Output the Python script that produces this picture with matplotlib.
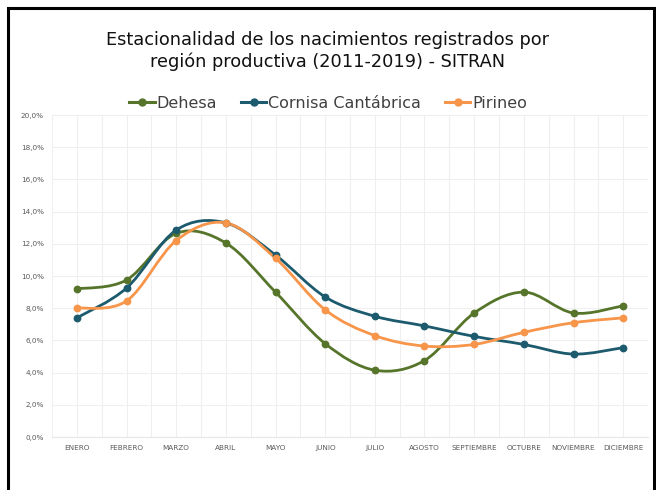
import numpy as np
import matplotlib.pyplot as plt
from matplotlib.path import Path
from matplotlib.patches import PathPatch, Rectangle
from matplotlib.ticker import FuncFormatter, MultipleLocator
from matplotlib.lines import Line2D

meses = ['ENERO', 'FEBRERO', 'MARZO', 'ABRIL', 'MAYO', 'JUNIO', 'JULIO',
         'AGOSTO', 'SEPTIEMBRE', 'OCTUBRE', 'NOVIEMBRE', 'DICIEMBRE']
dehesa = [9.2, 9.75, 12.65, 12.05, 9.0, 5.8, 4.15, 4.75, 7.7, 9.0, 7.7, 8.15]
cornisa = [7.4, 9.25, 12.85, 13.3, 11.3, 8.7, 7.5, 6.9, 6.25, 5.75, 5.15, 5.55]
pirineo = [8.0, 8.45, 12.2, 13.3, 11.1, 7.9, 6.3, 5.65, 5.75, 6.5, 7.1, 7.4]

series = [('Dehesa', dehesa, '#56752b'),
          ('Cornisa Cantábrica', cornisa, '#1c5a6e'),
          ('Pirineo', pirineo, '#f7954a')]


def smooth_path(x, y):
    # curva suavizada tipo Excel (Bezier con tension 1/6)
    x = np.asarray(x, float)
    y = np.asarray(y, float)
    verts = [(x[0], y[0])]
    codes = [Path.MOVETO]
    n = len(x)
    for i in range(n - 1):
        x0, y0 = (x[i - 1], y[i - 1]) if i > 0 else (x[i], y[i])
        x3, y3 = (x[i + 2], y[i + 2]) if i + 2 < n else (x[i + 1], y[i + 1])
        c1 = (x[i] + (x[i + 1] - x0) / 6, y[i] + (y[i + 1] - y0) / 6)
        c2 = (x[i + 1] - (x3 - x[i]) / 6, y[i + 1] - (y3 - y[i]) / 6)
        verts += [c1, c2, (x[i + 1], y[i + 1])]
        codes += [Path.CURVE4] * 3
    return Path(verts, codes)


fig = plt.figure(figsize=(6.56, 4.9), dpi=100)
ax = fig.add_axes([52 / 656, 1 - 437 / 490, 596 / 656, 322 / 490])

xs = np.arange(len(meses))
for nombre, vals, color in series:
    ax.add_patch(PathPatch(smooth_path(xs, vals), fill=False, edgecolor=color,
                           lw=2.0, capstyle='round', zorder=3))
    ax.plot(xs, vals, 'o', color=color, ms=4.6, zorder=4)

ax.set_xlim(-0.5, 11.5)
ax.set_ylim(0, 20)
ax.set_xticks(xs)
ax.set_xticklabels(meses)
ax.xaxis.set_minor_locator(MultipleLocator(0.5))
ax.yaxis.set_major_locator(MultipleLocator(2))
ax.yaxis.set_major_formatter(FuncFormatter(lambda v, p: f'{v:.1f}%'.replace('.', ',')))
ax.grid(True, which='both', axis='x', color='#efefef', lw=0.8)
ax.grid(True, which='major', axis='y', color='#efefef', lw=0.8)
ax.set_axisbelow(True)
ax.tick_params(which='both', length=0, labelsize=5.2, labelcolor='#595959', pad=6)
for s in ax.spines.values():
    s.set_visible(False)
ax.spines['bottom'].set_visible(True)
ax.spines['bottom'].set_color('#e6e6e6')

fig.text(0.5, 1 - 40 / 490, 'Estacionalidad de los nacimientos registrados por',
         ha='center', va='center', fontsize=12.8, color='#111111')
fig.text(0.5, 1 - 62 / 490, 'región productiva (2011-2019) - SITRAN',
         ha='center', va='center', fontsize=12.8, color='#111111')

handles = [Line2D([], [], color=c, lw=2.2, marker='o', ms=5) for _, _, c in series]
fig.legend(handles, [n for n, _, _ in series], loc='center', ncol=3,
           bbox_to_anchor=(0.5, 1 - 103 / 490), frameon=False, fontsize=11.5,
           labelcolor='#404040', handlelength=1.6, handletextpad=0.1,
           columnspacing=1.5)

fig.patches.append(Rectangle((8 / 656, -0.05), 646 / 656, 1.05 - 8 / 490,
                             transform=fig.transFigure, fill=False,
                             edgecolor='black', lw=2.2))

fig.savefig('out.png', dpi=100)
